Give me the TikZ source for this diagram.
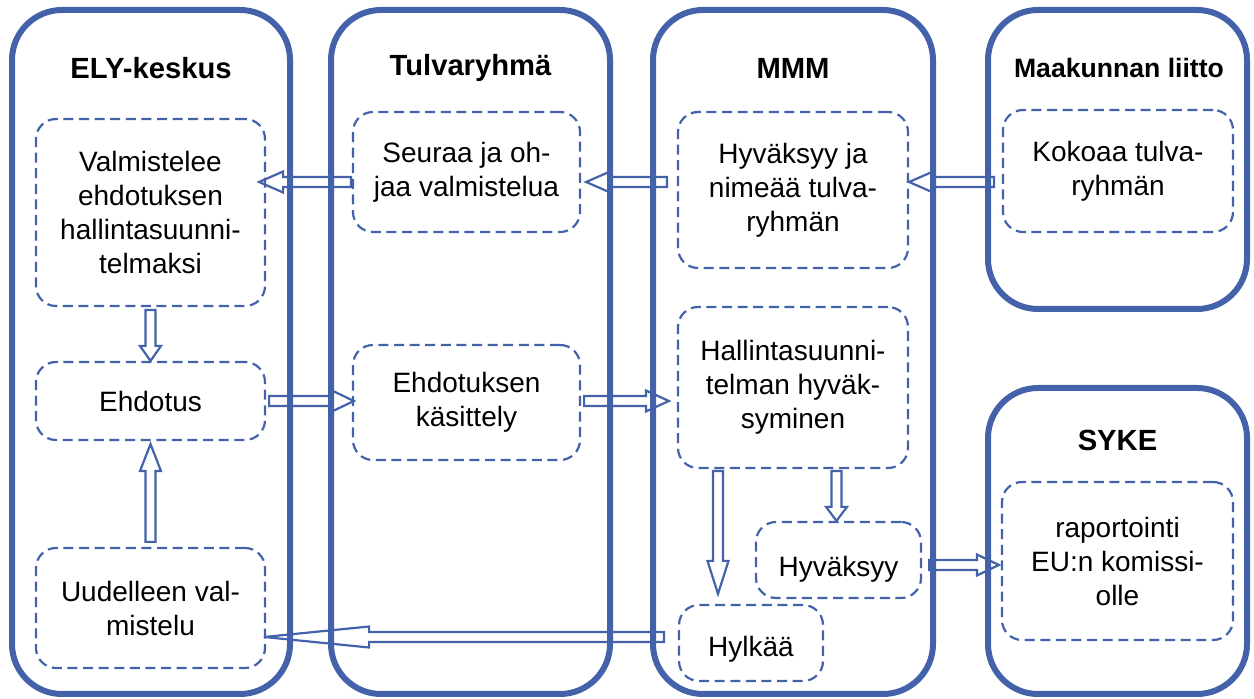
\documentclass[tikz,border=0pt]{standalone}
\usepackage{fontspec}
\setmainfont{Liberation Sans}
\usetikzlibrary{calc}
\definecolor{laneblue}{HTML}{4462A9}
\def\arrhl{12pt}

\begin{document}
\begin{tikzpicture}[
  x=0.5pt, y=-0.5pt,
  every node/.style={font=\fontsize{14}{17}\selectfont},
  lane/.style={rectangle, draw=laneblue, line width=3pt, rounded corners=25pt, inner sep=0pt},
  lanetitle/.style={font=\fontsize{14.6}{17}\selectfont\bfseries},
  taskbox/.style={rectangle, draw=laneblue, line width=1.1pt, dash pattern=on 5pt off 2.8pt,
    rounded corners=10pt, align=center, inner sep=0pt},
  headlen/.code={\def\arrhl{#1}},
  blockarrow/.style={draw=laneblue, line width=1.1pt, line join=miter,
    to path={let \p1=(\tikztostart), \p2=(\tikztotarget),
      \n1={atan2(\y2-\y1,\x2-\x1)}, \n2={veclen(\x2-\x1,\y2-\y1)} in
      [shift={(\p1)}, rotate=\n1]
      (0pt,2.5pt) -- (\n2-\arrhl,2.5pt) -- (\n2-\arrhl,5.25pt) -- (\n2,0pt)
      -- (\n2-\arrhl,-5.25pt) -- (\n2-\arrhl,-2.5pt) -- (0pt,-2.5pt) -- cycle}},
]
\useasboundingbox (0,0) rectangle (1254,699);

% Lanes
\node[lane, minimum width=139pt, minimum height=342pt] (ely) at (151,352) {};
\node[lane, minimum width=139.5pt, minimum height=342pt] (tul) at (470.5,352) {};
\node[lane, minimum width=140pt, minimum height=342pt] (mmm) at (793,352) {};
\node[lane, minimum width=129.5pt, minimum height=149.5pt] (maa) at (1117.5,159.5) {};
\node[lane, minimum width=129.5pt, minimum height=153pt] (syk) at (1117.5,541) {};

\node[lanetitle] (elyt) at (151,68) {ELY-keskus};
\node[lanetitle] (tult) at (470.5,68) {Tulvaryhmä};
\node[lanetitle] (mmmt) at (793,68) {MMM};
\node[lanetitle, font=\fontsize{13.3}{16}\selectfont\bfseries] (maat) at (1119,68) {Maakunnan liitto};
\node[lanetitle] (sykt) at (1117.5,440) {SYKE};

% Tasks
\node[taskbox, minimum width=114.5pt, minimum height=93.5pt] (val) at (150.5,212.5)
  {Valmistelee\\ehdotuksen\\hallintasuunni-\\telmaksi};
\node[taskbox, minimum width=114.5pt, minimum height=39pt] (ehd) at (150.5,401) {Ehdotus};
\node[taskbox, minimum width=114.5pt, minimum height=60pt] (uud) at (150.5,608)
  {Uudelleen val-\\mistelu};
\node[taskbox, minimum width=113.5pt, minimum height=60pt] (seu) at (466.5,172)
  {Seuraa ja oh-\\jaa valmistelua};
\node[taskbox, minimum width=113.5pt, minimum height=57.5pt] (kas) at (466.5,402.5)
  {Ehdotuksen\\käsittely};
\node[taskbox, minimum width=115pt, minimum height=78pt] (nim) at (793,190)
  {Hyväksyy ja\\nimeää tulva-\\ryhmän};
\node[taskbox, minimum width=115pt, minimum height=80.5pt] (hsu) at (793,387.5)
  {Hallintasuunni-\\telman hyväk-\\syminen};
\node[taskbox, minimum width=82.5pt, minimum height=38pt, text height=20pt, text depth=3pt]
  (hyv) at (838.5,560) {Hyväksyy};
\node[taskbox, minimum width=72pt, minimum height=38pt, text height=17pt, text depth=3pt]
  (hyl) at (751,643) {Hylkää};
\node[taskbox, minimum width=115pt, minimum height=61pt] (kok) at (1118,171)
  {Kokoaa tulva-\\ryhmän};
\node[taskbox, minimum width=115.5pt, minimum height=79pt] (rap) at (1117.5,561)
  {raportointi\\EU:n komissi-\\olle};

% Arrows
\draw[blockarrow] ($(seu.west)+(-1,10)$) to ($(seu.west -| val.east)+(-7,10)$);
\draw[blockarrow] ($(nim.west |- seu.west)+(-10,10)$) to ($(seu.east)+(5,10)$);
\draw[blockarrow] ($(kok.west |- seu.west)+(-8,10)$) to ($(nim.east |- seu.west)+(0,10)$);
\draw[blockarrow, headlen=7.5pt] ($(val.south)+(0,3)$) to ($(ehd.north)+(0,0)$);
\draw[blockarrow, headlen=13.5pt] ($(uud.north)+(0,-5)$) to ($(ehd.south)+(0,3)$);
\draw[blockarrow, headlen=11pt] ($(ehd.east)+(3,0)$) to ($(kas.west |- ehd.east)+(2,0)$);
\draw[blockarrow, headlen=11.5pt] ($(kas.east |- ehd.east)+(3,0)$) to ($(hsu.west |- ehd.east)+(-8,0)$);
\draw[blockarrow, headlen=16.5pt] ($(hyl.north |- hsu.south)+(-33,2)$) to ($(hyl.north)+(-33,-10)$);
\draw[blockarrow, headlen=7pt] ($(hyv.north |- hsu.south)+(-2,2)$) to ($(hyv.north)+(-2,0)$);
\draw[blockarrow, headlen=11pt] ($(hyv.east)+(7,5)$) to ($(hyv.east -| rap.west)+(-2,5)$);
\draw[blockarrow, headlen=52.5pt] ($(hyl.west)+(-14,-6)$) to ($(hyl.west -| uud.east)+(-2,-6)$);
\end{tikzpicture}
\end{document}
